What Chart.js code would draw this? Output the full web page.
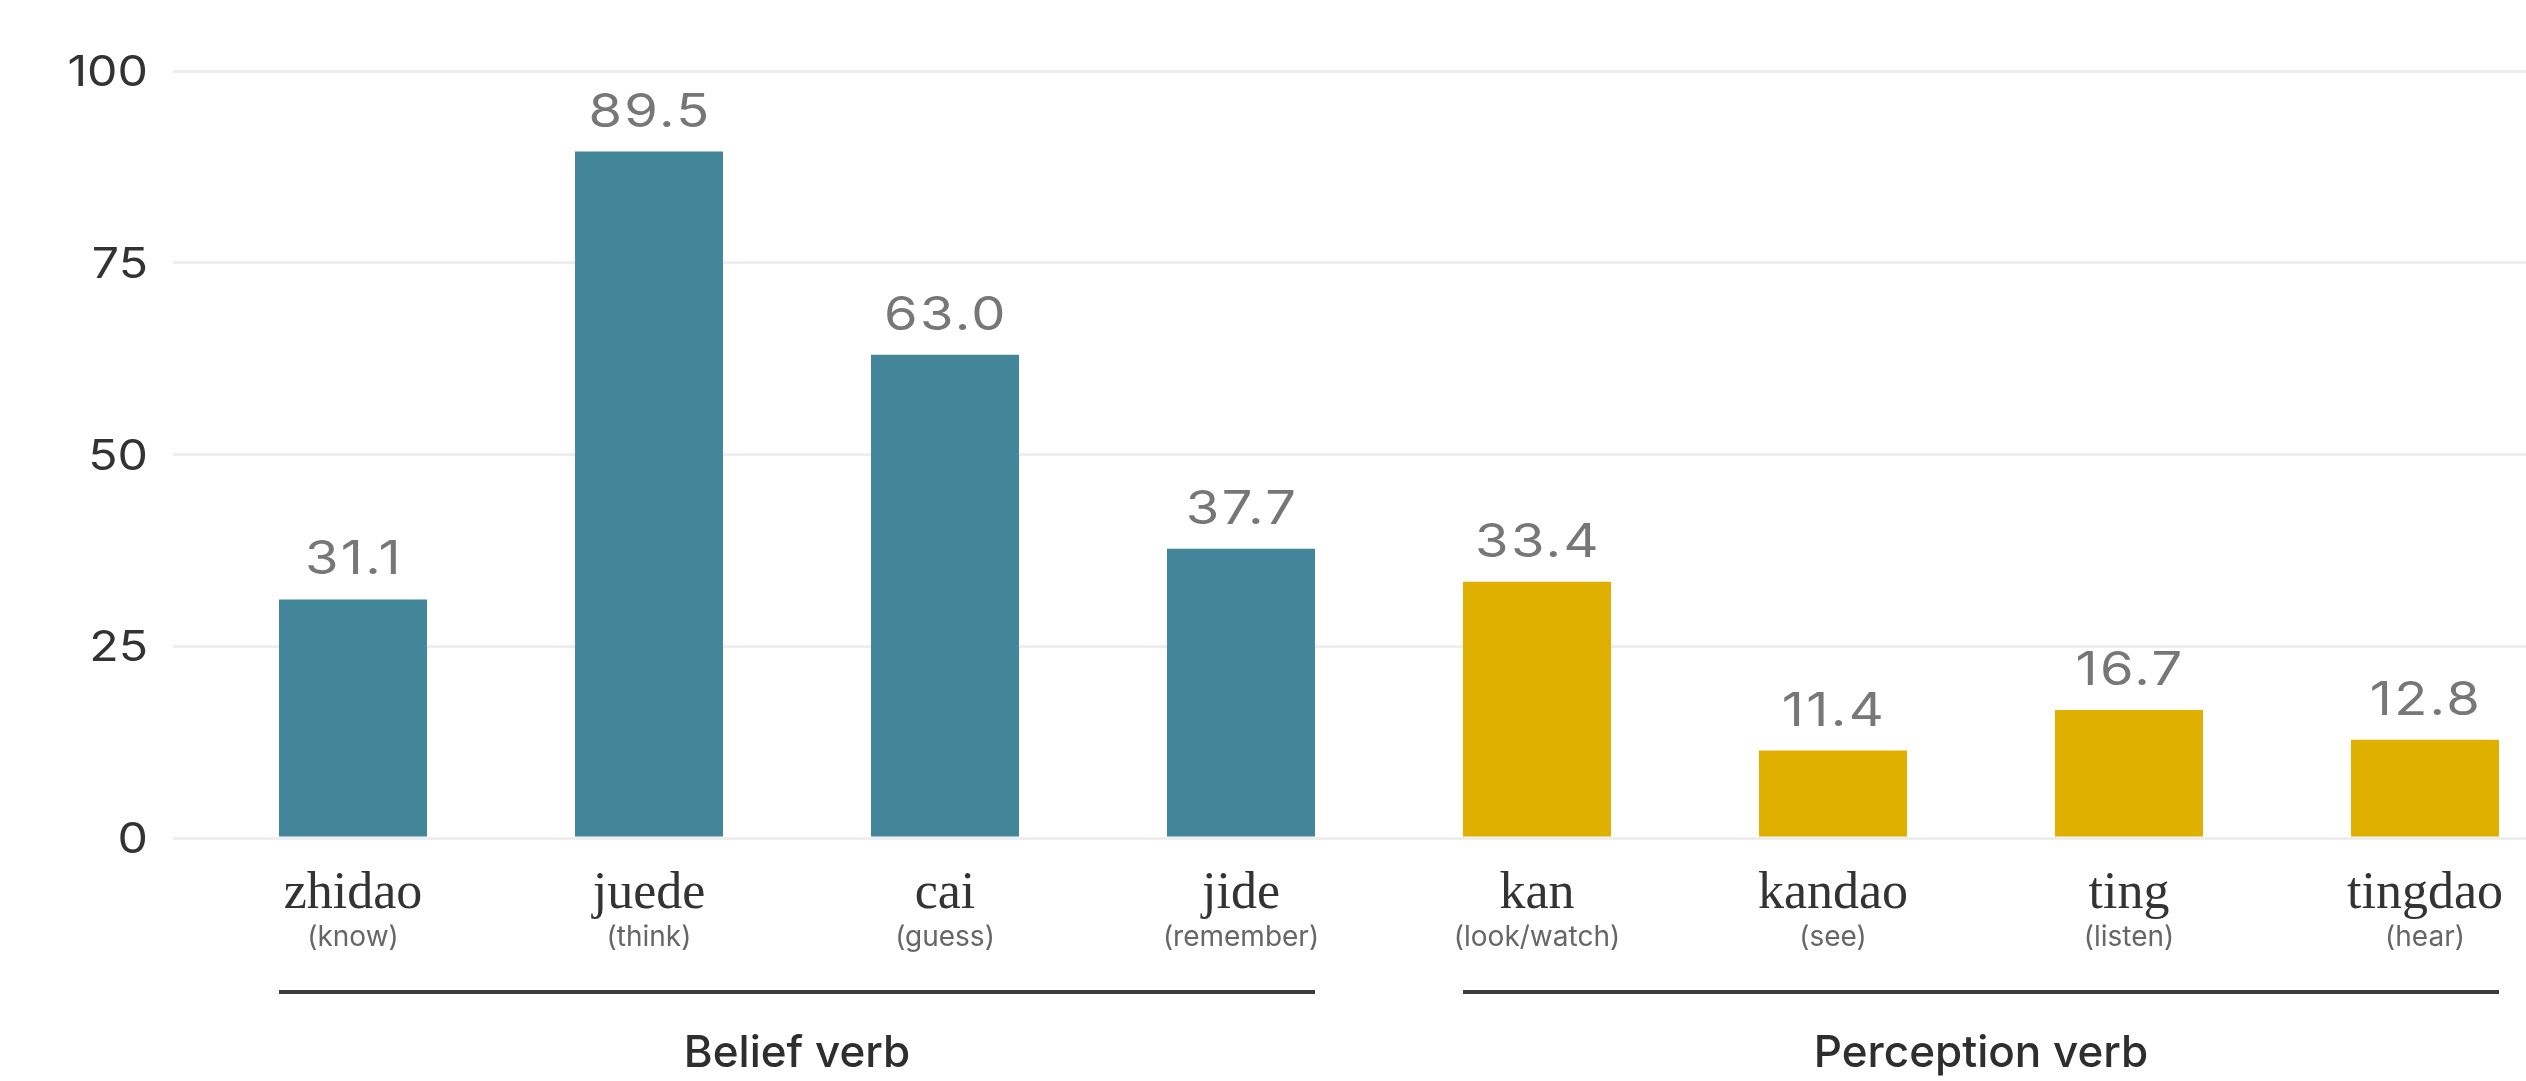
<!DOCTYPE html>
<html>
<head>
<meta charset="utf-8">
<title>Belief and perception verbs</title>
<script src="https://cdn.jsdelivr.net/npm/chart.js@4/dist/chart.umd.min.js"></script>
<style>
  html, body { margin: 0; padding: 0; background: #ffffff; overflow: hidden; }
  #wrap { position: relative; width: 2600px; height: 1081px; }
</style>
</head>
<body>
<div id="wrap"><canvas id="chart"></canvas></div>
<script>
// Verbs (pinyin), their English glosses and the verb class each belongs to
const categories = ['zhidao', 'juede', 'cai', 'jide', 'kan', 'kandao', 'ting', 'tingdao'];
const glosses = ['(know)', '(think)', '(guess)', '(remember)', '(look/watch)', '(see)', '(listen)', '(hear)'];
const verbClass = ['Belief verb', 'Belief verb', 'Belief verb', 'Belief verb',
                   'Perception verb', 'Perception verb', 'Perception verb', 'Perception verb'];
const groupNames = ['Belief verb', 'Perception verb'];
// Percentage for each verb
const values = [31.1, 89.5, 63.0, 37.7, 33.4, 11.4, 16.7, 12.8];
// Y axis ticks
const yTicks = [0, 25, 50, 75, 100];

const classColors = { 'Belief verb': '#438699', 'Perception verb': '#E0B000' };

const SANS = 'Inter, "Noto Sans", sans-serif';
const SERIF = '"Liberation Serif", "DejaVu Serif", serif';

// Draws text with wide (horizontally stretched) numerals
function wideText(ctx, text, x, y, sx, align) {
  ctx.save();
  ctx.translate(x, y);
  ctx.scale(sx, 1);
  ctx.textAlign = align;
  ctx.fillText(text, 0, 0);
  ctx.restore();
}

// Y tick labels, value labels above bars, category labels under the axis, group brackets
const annotate = {
  id: 'annotate',
  afterDatasetsDraw(chart) {
    const ctx = chart.ctx;
    const xs = chart.scales.x;
    const ys = chart.scales.y;
    const area = chart.chartArea;
    const bars = chart.getDatasetMeta(0).data;
    ctx.save();
    ctx.textBaseline = 'alphabetic';

    // y tick labels, right aligned next to the grid lines
    ctx.font = '42px ' + SANS;
    ctx.fillStyle = '#333333';
    ys.ticks.forEach(t => {
      wideText(ctx, String(t.value), 148, ys.getPixelForValue(t.value) + 15, 1.15, 'right');
    });

    // value labels
    ctx.font = '46px ' + SANS;
    ctx.fillStyle = '#777777';
    if ('letterSpacing' in ctx) ctx.letterSpacing = '2px';
    bars.forEach((bar, i) => {
      wideText(ctx, values[i].toFixed(1), bar.x + 1, bar.y - 25, 1.18, 'center');
    });
    if ('letterSpacing' in ctx) ctx.letterSpacing = '0px';

    // category names and glosses
    ctx.textAlign = 'center';
    categories.forEach((name, i) => {
      const x = xs.getPixelForValue(i);
      ctx.font = '52px ' + SERIF;
      ctx.fillStyle = '#333333';
      ctx.fillText(name, x, area.bottom + 70);
      ctx.font = '28px ' + SANS;
      ctx.fillStyle = '#666666';
      ctx.fillText(glosses[i], x, area.bottom + 108);
    });

    // group brackets with titles
    groupNames.forEach(g => {
      const idx = verbClass.map((c, i) => c === g ? i : -1).filter(i => i >= 0);
      const first = bars[idx[0]], last = bars[idx[idx.length - 1]];
      const x0 = first.x - first.width / 2;
      const x1 = last.x + last.width / 2;
      ctx.strokeStyle = '#3c3c3c';
      ctx.lineWidth = 4;
      ctx.beginPath();
      ctx.moveTo(x0, area.bottom + 154);
      ctx.lineTo(x1, area.bottom + 154);
      ctx.stroke();
      ctx.font = '500 44px ' + SANS;
      ctx.fillStyle = '#2e2e2e';
      ctx.fillText(g, (x0 + x1) / 2, area.bottom + 229);
    });
    ctx.restore();
  }
};

function draw() {
  new Chart(document.getElementById('chart'), {
    type: 'bar',
    data: {
      labels: categories,
      datasets: [{
        data: values,
        backgroundColor: verbClass.map(c => classColors[c]),
        borderWidth: 0,
        barPercentage: 1,
        categoryPercentage: 0.5
      }]
    },
    options: {
      responsive: true,
      maintainAspectRatio: false,
      devicePixelRatio: 1,
      animation: false,
      layout: { padding: { top: 71, right: 27, left: 0, bottom: 0 } },
      plugins: { legend: { display: false }, tooltip: { enabled: false } },
      scales: {
        x: {
          grid: { display: false },
          border: { display: false },
          ticks: { display: false },
          afterFit(s) { s.height = 243; }
        },
        y: {
          min: 0,
          max: 100,
          afterBuildTicks(s) { s.ticks = yTicks.map(v => ({ value: v })); },
          grid: { color: '#eeeeee', lineWidth: 3, drawTicks: true, tickLength: 32 },
          border: { display: false },
          ticks: { display: false },
          afterFit(s) { s.width = 205; }
        }
      }
    },
    plugins: [annotate]
  });
}

Promise.all([
  document.fonts.load('45px Inter'),
  document.fonts.load('500 45px Inter'),
  document.fonts.load('52px "Liberation Serif"')
]).then(draw, draw);
</script>
</body>
</html>
